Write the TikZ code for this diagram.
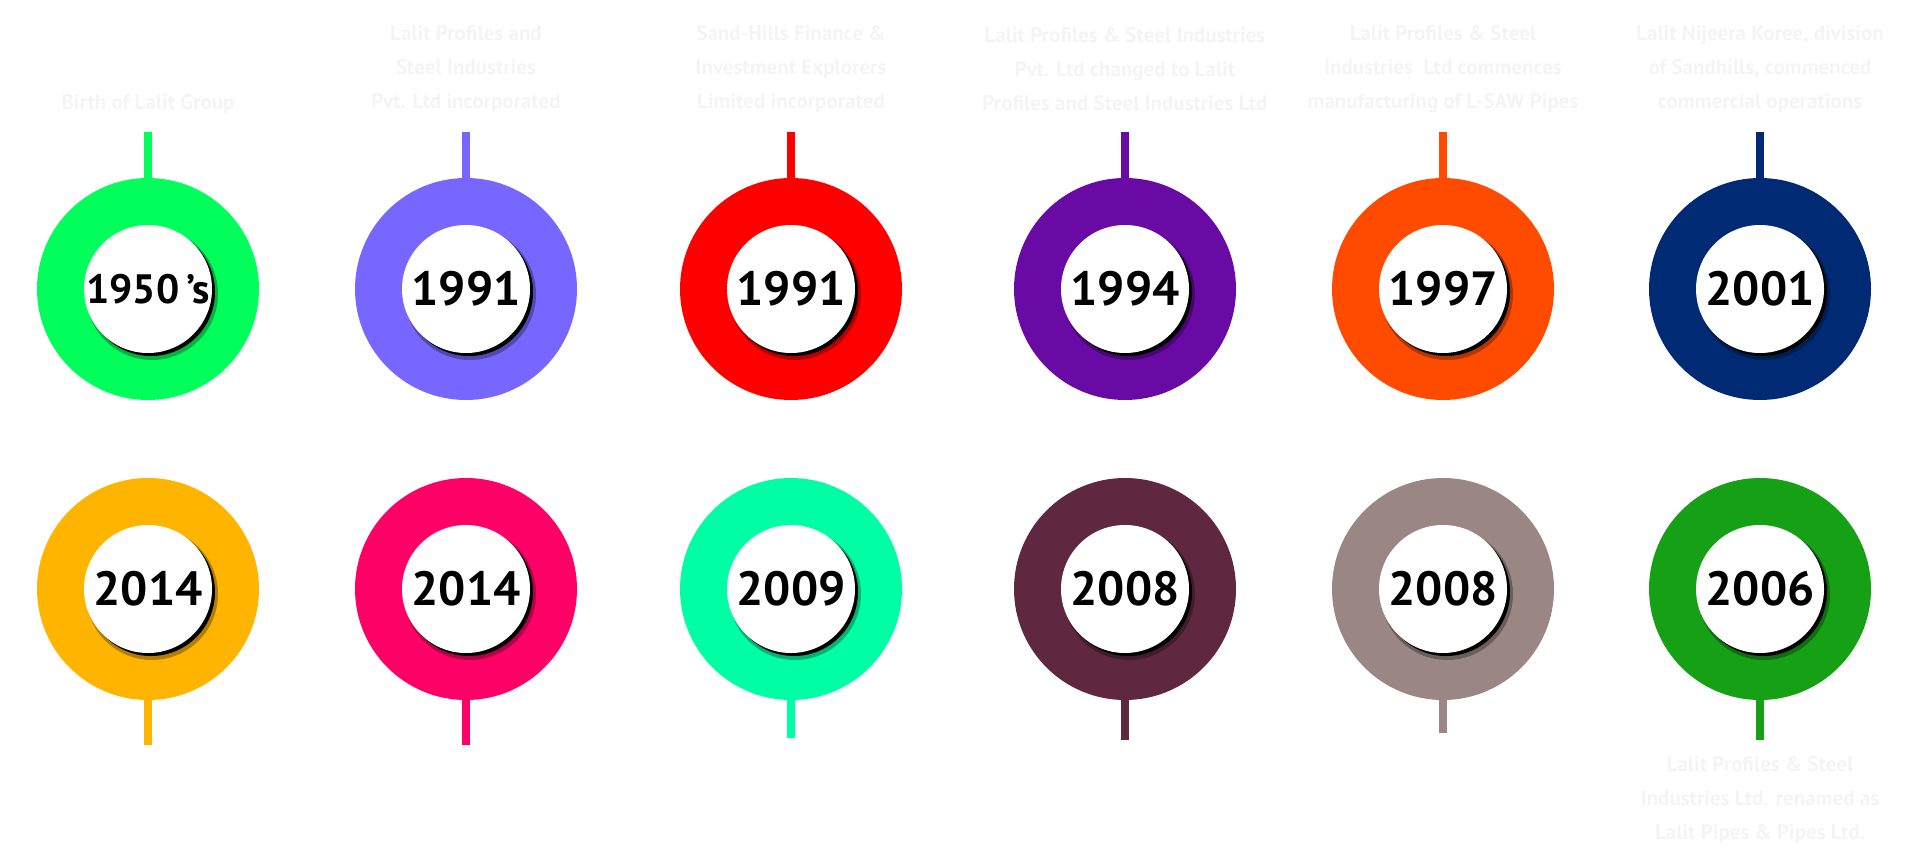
\documentclass[tikz,border=0pt]{standalone}
\usepackage{fontspec}
\setmainfont{PT Sans}
\usetikzlibrary{positioning}
\definecolor{cA}{HTML}{00FF5A}
\definecolor{cB}{HTML}{7766FF}
\definecolor{cC}{HTML}{FF0000}
\definecolor{cD}{HTML}{6A0AA5}
\definecolor{cE}{HTML}{FF4B00}
\definecolor{cF}{HTML}{002A73}
\definecolor{dA}{HTML}{FFB400}
\definecolor{dB}{HTML}{FF0066}
\definecolor{dC}{HTML}{00FFA5}
\definecolor{dD}{HTML}{5F2840}
\definecolor{dE}{HTML}{9A8685}
\definecolor{dF}{HTML}{16A016}
\definecolor{notegray}{HTML}{F4F4F4}
\newcommand{\ringsize}{222pt}
\newcommand{\discsize}{128pt}

\begin{document}
\begin{tikzpicture}[x=1pt,y=-1pt]
            %\draw[help lines] (0,0) grid[step=100] (1920,857);
            \tikzset{ring/.style={circle, fill=#1, minimum size=\ringsize, inner sep=0pt},
                     yeardisc/.style={circle, fill=white, minimum size=\discsize, inner sep=0pt,
                                      font=\bfseries\fontsize{48}{48}\selectfont},
                     stem/.style={draw=#1, line width=8pt},
                     note/.style={align=center, text=notegray,
                                  font=\bfseries\fontsize{21}{34}\selectfont}}
            \useasboundingbox (0,0) rectangle (1920,857);
            % top row, stems going up
            \foreach \nm/\cx/\col/\yr in {a/148/cA/{\fontsize{41}{41}\selectfont 1950\,’s},
                                          b/466/cB/1991, c/791/cC/1991, d/1125/cD/1994,
                                          e/1443/cE/1997, f/1760/cF/2001}{
              \node[ring=\col] (r\nm) at (\cx,289) {};
              \coordinate (t\nm) at (\cx,132);
              \draw[stem=\col] (r\nm.north) -- (t\nm);
              \fill[black,opacity=.3] (\cx+4,294) circle (66);
              \fill[black] (\cx+3,292) circle (64);
              \node[yeardisc] (y\nm) at (\cx,289) {\yr};
            }
            % bottom row, stems going down
            \foreach \nm/\cx/\sy/\col/\yr in {g/148/745/dA/2014, h/466/745/dB/2014,
                                              i/791/738/dC/2009, j/1125/740/dD/2008,
                                              k/1443/733/dE/2008, l/1760/740/dF/2006}{
              \node[ring=\col] (r\nm) at (\cx,589) {};
              \coordinate (t\nm) at (\cx,\sy);
              \draw[stem=\col] (r\nm.south) -- (t\nm);
              \fill[black,opacity=.3] (\cx+4,594) circle (66);
              \fill[black] (\cx+3,592) circle (64);
              \node[yeardisc] (y\nm) at (\cx,589) {\yr};
            }
            % notes
            \node[note] (na) at (148,104) {Birth of Lalit Group};
            \node[note] (nb) at (466,69) {Lalit Profiles and\\Steel Industries\\Pvt. Ltd incorporated};
            \node[note] (nc) at (791,69) {Sand-Hills Finance \&\\Investment Explorers\\Limited incorporated};
            \node[note] (nd) at (1125,69) {Lalit Profiles \& Steel Industries\\Pvt. Ltd changed to Lalit\\Profiles and Steel Industries Ltd};
            \node[note] (ne) at (1443,69) {Lalit Profiles \& Steel\\Industries\ \ Ltd commences\\manufacturing of L-SAW Pipes};
            \node[note] (nf) at (1760,69) {Lalit Nijeera Koree, division\\of Sandhills, commenced\\commercial operations};
            \node[note] (nl) at (1760,800) {Lalit Profiles \& Steel\\Industries Ltd. renamed as\\Lalit Pipes \& Pipes Ltd.};
        \end{tikzpicture}
\end{document}
